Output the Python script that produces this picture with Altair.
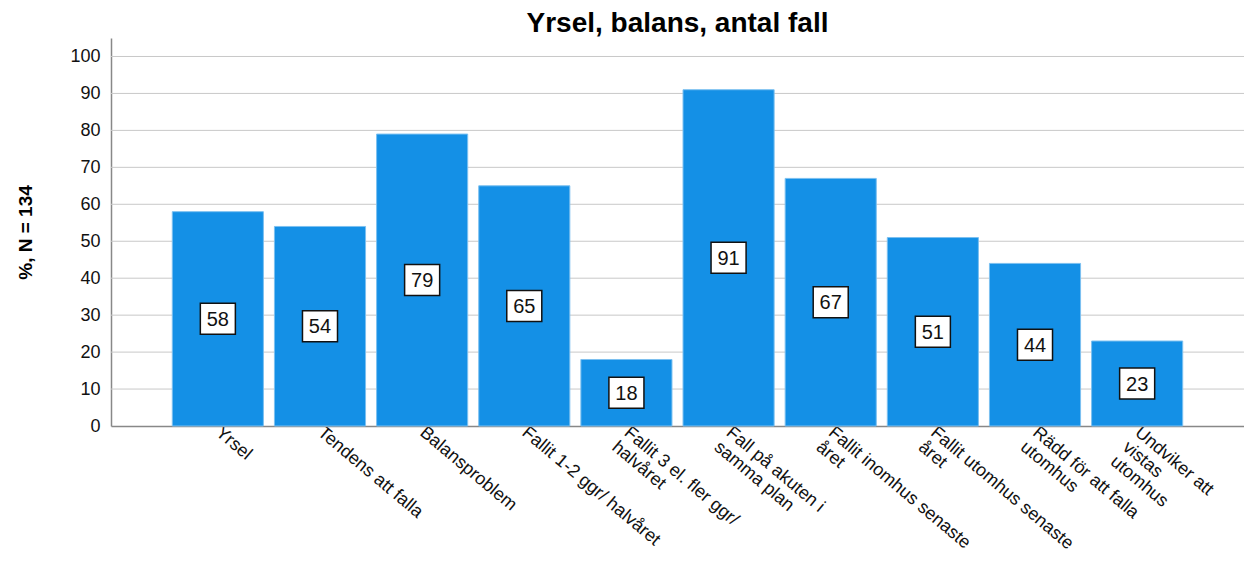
import altair as alt
import pandas as pd

categories = [
    "Yrsel",
    "Tendens att falla",
    "Balansproblem",
    "Fallit 1-2 ggr/ halvåret",
    "Fallit 3 el. fler ggr/|halvåret",
    "Fall på akuten i|samma plan",
    "Fallit inomhus senaste|året",
    "Fallit utomhus senaste|året",
    "Rädd för att falla|utomhus",
    "Undviker att|vistas|utomhus",
]
values = [58, 54, 79, 65, 18, 91, 67, 51, 44, 23]
y_ticks = [0, 10, 20, 30, 40, 50, 60, 70, 80, 90, 100]

df = pd.DataFrame({"cat": categories, "val": values})
df["mid"] = df["val"] / 2
grid_df = pd.DataFrame({"tick": y_ticks[1:]})

FONT = "Liberation Sans"
BLUE = "#1490e6"

x_scale = alt.Scale(paddingInner=0.108, paddingOuter=0.6)
y_scale = alt.Scale(domain=[0, 105], nice=False)

x_axis = alt.Axis(
    title=None,
    labelAngle=40,
    labelAlign="left",
    labelBaseline="middle",
    labelExpr="split(datum.label, '|')",
    labelFont=FONT,
    labelFontSize=18,
    labelLineHeight=19,
    labelColor="#111111",
    labelLimit=500,
    labelOverlap=False,
    labelPadding=4,
    ticks=False,
    domainColor="#888888",
    domainWidth=1.5,
    grid=False,
)

y_axis = alt.Axis(
    title="%, N = 134",
    values=y_ticks,
    labelFont=FONT,
    labelFontSize=18,
    labelColor="#111111",
    labelPadding=11,
    labelOverlap=False,
    ticks=False,
    domainColor="#888888",
    domainWidth=1.5,
    grid=False,
    titleFont=FONT,
    titleFontSize=19,
    titleFontWeight="bold",
    titleColor="#000000",
    titleX=-86,
    titleY=194,
    titleAlign="center",
    titleBaseline="middle",
    titleAngle=270,
)


def xe():
    return alt.X("cat:N", sort=None, scale=x_scale, axis=x_axis)


def ye(field):
    return alt.Y(field, type="quantitative", scale=y_scale, axis=y_axis, title="%, N = 134")


grid = alt.Chart(grid_df).mark_rule(color="#c8c8c8", strokeWidth=1).encode(
    y=ye("tick")
)

bars = alt.Chart(df).mark_bar(
    color=BLUE, stroke="#7cc0f0", strokeWidth=1
).encode(x=xe(), y=ye("val"))

boxes = alt.Chart(df).mark_point(
    shape="M-1.13,-1H1.13V1H-1.13Z",
    filled=True,
    fill="white",
    stroke="#111111",
    strokeWidth=1.5,
    opacity=1,
    size=961,
).encode(x=xe(), y=ye("mid"))

texts = alt.Chart(df).mark_text(
    font=FONT, fontSize=20, color="#111111", baseline="middle", dy=1
).encode(x=xe(), y=ye("mid"), text=alt.Text("val:Q"))

chart = (
    alt.layer(grid, bars, boxes, texts)
    .properties(
        width=1133,
        height=388,
        background="white",
        title=alt.Title(
            "Yrsel, balans, antal fall",
            font=FONT,
            fontSize=28,
            fontWeight="bold",
            color="#000000",
            anchor="middle",
            offset=0,
        ),
        autosize=alt.AutoSizeParams(type="none"),
        padding={"left": 103, "top": 30, "right": 0, "bottom": 126},
    )
    .configure_view(stroke="transparent", strokeWidth=0)
)

chart.save("out.html", embed_options={"renderer": "svg", "actions": False})
